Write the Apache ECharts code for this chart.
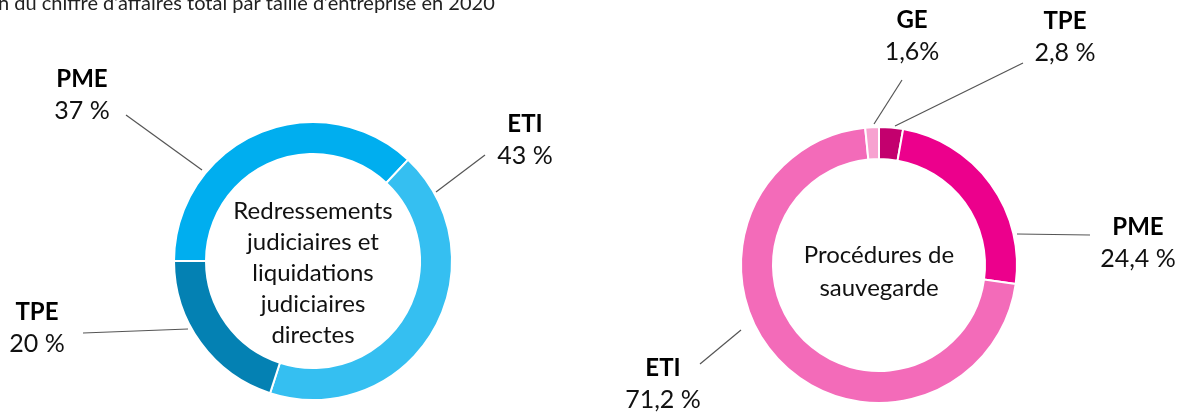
<!DOCTYPE html>
<html>
<head>
<meta charset="utf-8">
<title>Chiffre d'affaires par taille d'entreprise</title>
<script src="https://cdn.jsdelivr.net/npm/echarts@6/dist/echarts.min.js"></script>
<style>
  html, body { margin: 0; padding: 0; background: #fff; }
  #chart { width: 1188px; height: 414px; }
</style>
</head>
<body>
<div id="chart"></div>
<script>
// données : part du chiffre d'affaires (%)
var rjCategories = ['PME', 'ETI', 'TPE'];
var rjValues = [37, 43, 20];
var rjLabels = ['37 %', '43 %', '20 %'];

var sauvCategories = ['TPE', 'PME', 'ETI', 'GE'];
var sauvValues = [2.8, 24.4, 71.2, 1.6];
var sauvLabels = ['2,8 %', '24,4 %', '71,2 %', '1,6%'];

// couleurs
var rjColors = ['#00aeef', '#35bff1', '#0481b3'];
var sauvColors = ['#c3006e', '#ec008c', '#f36bb9', '#f7a2d0'];

// emplacement des étiquettes [x, y] et points des traits de rappel
var rjLabelPos = [[82, 95], [525, 140], [37, 328]];
var rjLinePts = [[[202, 170], [126, 115]], [[436, 192], [485, 155]], [[188, 329], [83, 333]]];
var sauvLabelPos = [[1065, 37], [1138, 243], [663, 384], [912, 36]];
var sauvLinePts = [[[895, 126], [1023, 63]], [[1017, 234], [1090, 235]], [[741, 330], [700, 364]], [[874, 124], [902, 80]]];

var FONT = 'Lato, "Open Sans", sans-serif';

function makeData(cats, vals, labels, colors) {
    var out = [];
    for (var i = 0; i < cats.length; i++) {
        out.push({
            name: cats[i],
            value: vals[i],
            pct: labels[i],
            itemStyle: { color: colors[i] }
        });
    }
    return out;
}

function makeLayout(pos, lines) {
    return function (params) {
        var i = params.dataIndex;
        var a = lines[i][0], b = lines[i][1];
        return {
            x: pos[i][0],
            y: pos[i][1],
            align: 'center',
            verticalAlign: 'middle',
            labelLinePoints: [a, [(a[0] + b[0]) / 2, (a[1] + b[1]) / 2], b]
        };
    };
}

var labelStyle = {
    show: true,
    position: 'outside',
    formatter: function (p) {
        return '{n|' + p.name + '}\n{v|' + p.data.pct + '}';
    },
    rich: {
        n: { fontFamily: FONT, fontWeight: 'bold', fontSize: 24, color: '#000', lineHeight: 32, align: 'center' },
        v: { fontFamily: FONT, fontSize: 25, color: '#111', lineHeight: 32, align: 'center' }
    }
};

var chart = echarts.init(document.getElementById('chart'));
var option = {
    animation: false,
    backgroundColor: '#fff',
    graphic: [
        {
            type: 'text', left: -2, top: -6,
            style: {
                text: 'n du chiffre d\u2019affaires total par taille d\u2019entreprise en 2020',
                font: '20px ' + FONT, fill: '#222'
            }
        },
        {
            type: 'text', x: 313, y: 273,
            style: {
                text: 'Redressements\njudiciaires et\nliquidations\njudiciaires\ndirectes',
                font: '24px ' + FONT, fill: '#111', align: 'center', verticalAlign: 'middle',
                lineHeight: 31
            }
        },
        {
            type: 'text', x: 879, y: 272,
            style: {
                text: 'Proc\u00e9dures de\nsauvegarde',
                font: '24px ' + FONT, fill: '#111', align: 'center', verticalAlign: 'middle',
                lineHeight: 33
            }
        }
    ],
    series: [
        {
            name: 'Redressements et liquidations',
            type: 'pie',
            center: [313, 261],
            radius: [107, 139],
            startAngle: 180,
            clockwise: true,
            silent: true,
            itemStyle: { borderColor: '#fff', borderWidth: 2 },
            label: labelStyle,
            labelLine: { show: true, lineStyle: { color: '#555', width: 1.2 } },
            labelLayout: makeLayout(rjLabelPos, rjLinePts),
            data: makeData(rjCategories, rjValues, rjLabels, rjColors)
        },
        {
            name: 'Procédures de sauvegarde',
            type: 'pie',
            center: [879, 265],
            radius: [106, 138],
            startAngle: 90,
            clockwise: true,
            silent: true,
            itemStyle: { borderColor: '#fff', borderWidth: 2 },
            label: labelStyle,
            labelLine: { show: true, lineStyle: { color: '#555', width: 1.2 } },
            labelLayout: makeLayout(sauvLabelPos, sauvLinePts),
            data: makeData(sauvCategories, sauvValues, sauvLabels, sauvColors)
        }
    ]
};
chart.setOption(option);
</script>
</body>
</html>
